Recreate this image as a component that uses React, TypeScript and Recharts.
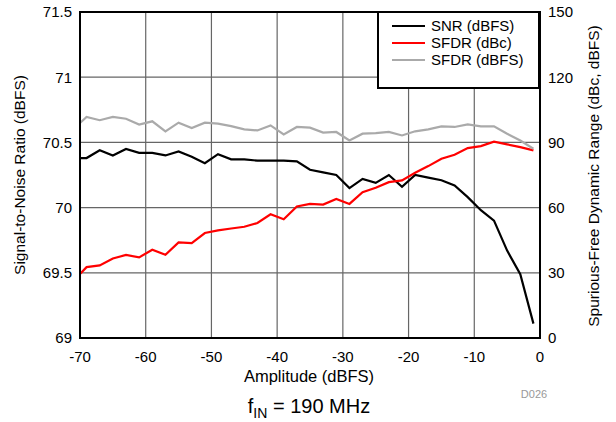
import { CartesianGrid, Line, LineChart, XAxis, YAxis } from "recharts";

// amplitude sweep, dBFS
const amplitude = [
  -70, -69, -67, -65, -63, -61, -59, -57, -55, -53, -51, -49, -47, -45, -43, -41, -39, -37,
  -35, -33, -31, -29, -27, -25, -23, -21, -19, -17, -15, -13, -11, -9, -7, -5, -3, -1
];

const snr = [
  70.38, 70.38, 70.44, 70.4, 70.45, 70.42, 70.42, 70.4, 70.43, 70.39, 70.34, 70.41, 70.37, 70.37,
  70.36, 70.36, 70.36, 70.355, 70.29, 70.27, 70.25, 70.15, 70.22, 70.19, 70.25, 70.16, 70.25,
  70.23, 70.21, 70.17, 70.08, 69.98, 69.9, 69.67, 69.49, 69.11
];

const sfdrDbc = [
  29.4, 32.6, 33.4, 36.6, 38.2, 37.1, 40.6, 38.3, 44.0, 43.7, 48.3, 49.5, 50.4, 51.2, 52.9, 56.9,
  54.6, 60.5, 61.7, 61.4, 64.0, 61.7, 67.1, 69.1, 71.7, 72.5, 76.0, 79.1, 82.5, 84.3, 87.4, 88.3,
  90.3, 89.1, 87.8, 86.3
];

const sfdrDbfs = [
  98.9, 101.7, 100.2, 101.7, 100.9, 98.2, 99.7, 95.1, 99.1, 96.6, 99.1, 98.6, 97.5, 96.0, 95.5,
  97.8, 93.7, 97.1, 96.8, 94.5, 94.8, 90.9, 94.0, 94.3, 94.8, 93.2, 95.1, 96.0, 97.4, 97.1, 98.3,
  97.4, 97.4, 94.0, 90.9, 87.1
];

const xTicks = [-70, -60, -50, -40, -30, -20, -10, 0];
const leftTicks = [69, 69.5, 70, 70.5, 71, 71.5];
const rightTicks = [0, 30, 60, 90, 120, 150];

const series = [
  { key: "snr", name: "SNR (dBFS)", color: "#000000", axis: "left" },
  { key: "sfdrDbc", name: "SFDR (dBc)", color: "#ff0000", axis: "right" },
  { key: "sfdrDbfs", name: "SFDR (dBFS)", color: "#aaaaaa", axis: "right" }
];

const data = amplitude.map((a, i) => ({
  amplitude: a,
  snr: snr[i],
  sfdrDbc: sfdrDbc[i],
  sfdrDbfs: sfdrDbfs[i]
}));

const font = "'Liberation Sans', Arial, sans-serif";
const tick = { fill: "#000", fontSize: 15, fontFamily: font };

// plot box in page pixels
const box = { left: 80, top: 12, right: 540, bottom: 338 };

export default function App() {
  return (
    <div style={{ position: "absolute", left: 0, top: 0, width: 616, height: 422, background: "#fff", fontFamily: font }}>
      <LineChart
        width={616}
        height={422}
        data={data}
        margin={{ top: box.top, left: box.left - 60, right: 616 - box.right - 60, bottom: 422 - box.bottom - 30 }}
      >
        <CartesianGrid yAxisId="left" stroke="#666" strokeWidth={1.2} horizontalValues={leftTicks} verticalValues={xTicks} />
        <XAxis
          dataKey="amplitude"
          type="number"
          domain={[-70, 0]}
          ticks={xTicks}
          height={30}
          tick={tick}
          tickLine={false}
          axisLine={false}
          tickSize={6}
          tickMargin={7}
        />
        <YAxis
          yAxisId="left"
          domain={[69, 71.5]}
          ticks={leftTicks}
          width={60}
          tick={tick}
          tickLine={false}
          axisLine={false}
          tickSize={6}
        />
        <YAxis
          yAxisId="right"
          orientation="right"
          domain={[0, 150]}
          ticks={rightTicks}
          width={60}
          tick={tick}
          tickLine={false}
          axisLine={false}
          tickSize={6}
        />
        {series.map((s) => (
          <Line
            key={s.key}
            yAxisId={s.axis}
            dataKey={s.key}
            stroke={s.color}
            strokeWidth={2.2}
            dot={false}
            type="linear"
            isAnimationActive={false}
          />
        ))}
      </LineChart>

      {/* frame */}
      <div
        style={{
          position: "absolute",
          left: box.left - 1,
          top: box.top - 1,
          width: box.right - box.left - 2,
          height: box.bottom - box.top - 2,
          border: "2px solid #000",
          pointerEvents: "none"
        }}
      />

      {/* legend */}
      <div
        style={{
          position: "absolute",
          left: 377,
          top: 11,
          width: 159,
          height: 70,
          background: "#fff",
          border: "2px solid #000",
          fontSize: 15,
          lineHeight: "17px",
          paddingTop: 4
        }}
      >
        {series.map((s) => (
          <div key={s.key} style={{ display: "flex", alignItems: "center", height: 17 }}>
            <span style={{ display: "inline-block", width: 33, height: 2, background: s.color, marginLeft: 13, marginRight: 6 }} />
            <span>{s.name}</span>
          </div>
        ))}
      </div>

      <div
        style={{
          position: "absolute",
          left: 20,
          top: 175,
          fontSize: 15.5,
          whiteSpace: "nowrap",
          transform: "translate(-50%, -50%) rotate(-90deg)"
        }}
      >
        Signal-to-Noise Ratio (dBFS)
      </div>
      <div
        style={{
          position: "absolute",
          left: 594,
          top: 176,
          fontSize: 15.5,
          whiteSpace: "nowrap",
          transform: "translate(-50%, -50%) rotate(-90deg)"
        }}
      >
        Spurious-Free Dynamic Range (dBc, dBFS)
      </div>
      <div style={{ position: "absolute", left: 309, top: 376, fontSize: 16.5, transform: "translate(-50%, -50%)", whiteSpace: "nowrap" }}>
        Amplitude (dBFS)
      </div>
      <div style={{ position: "absolute", left: 534, top: 394, fontSize: 11, color: "#999", transform: "translate(-50%, -50%)" }}>
        D026
      </div>
      <div style={{ position: "absolute", left: 309, top: 408, fontSize: 20, transform: "translate(-50%, -50%)", whiteSpace: "nowrap" }}>
        f<sub style={{ fontSize: 14, verticalAlign: "-5px" }}>IN</sub> = 190 MHz
      </div>
    </div>
  );
}
